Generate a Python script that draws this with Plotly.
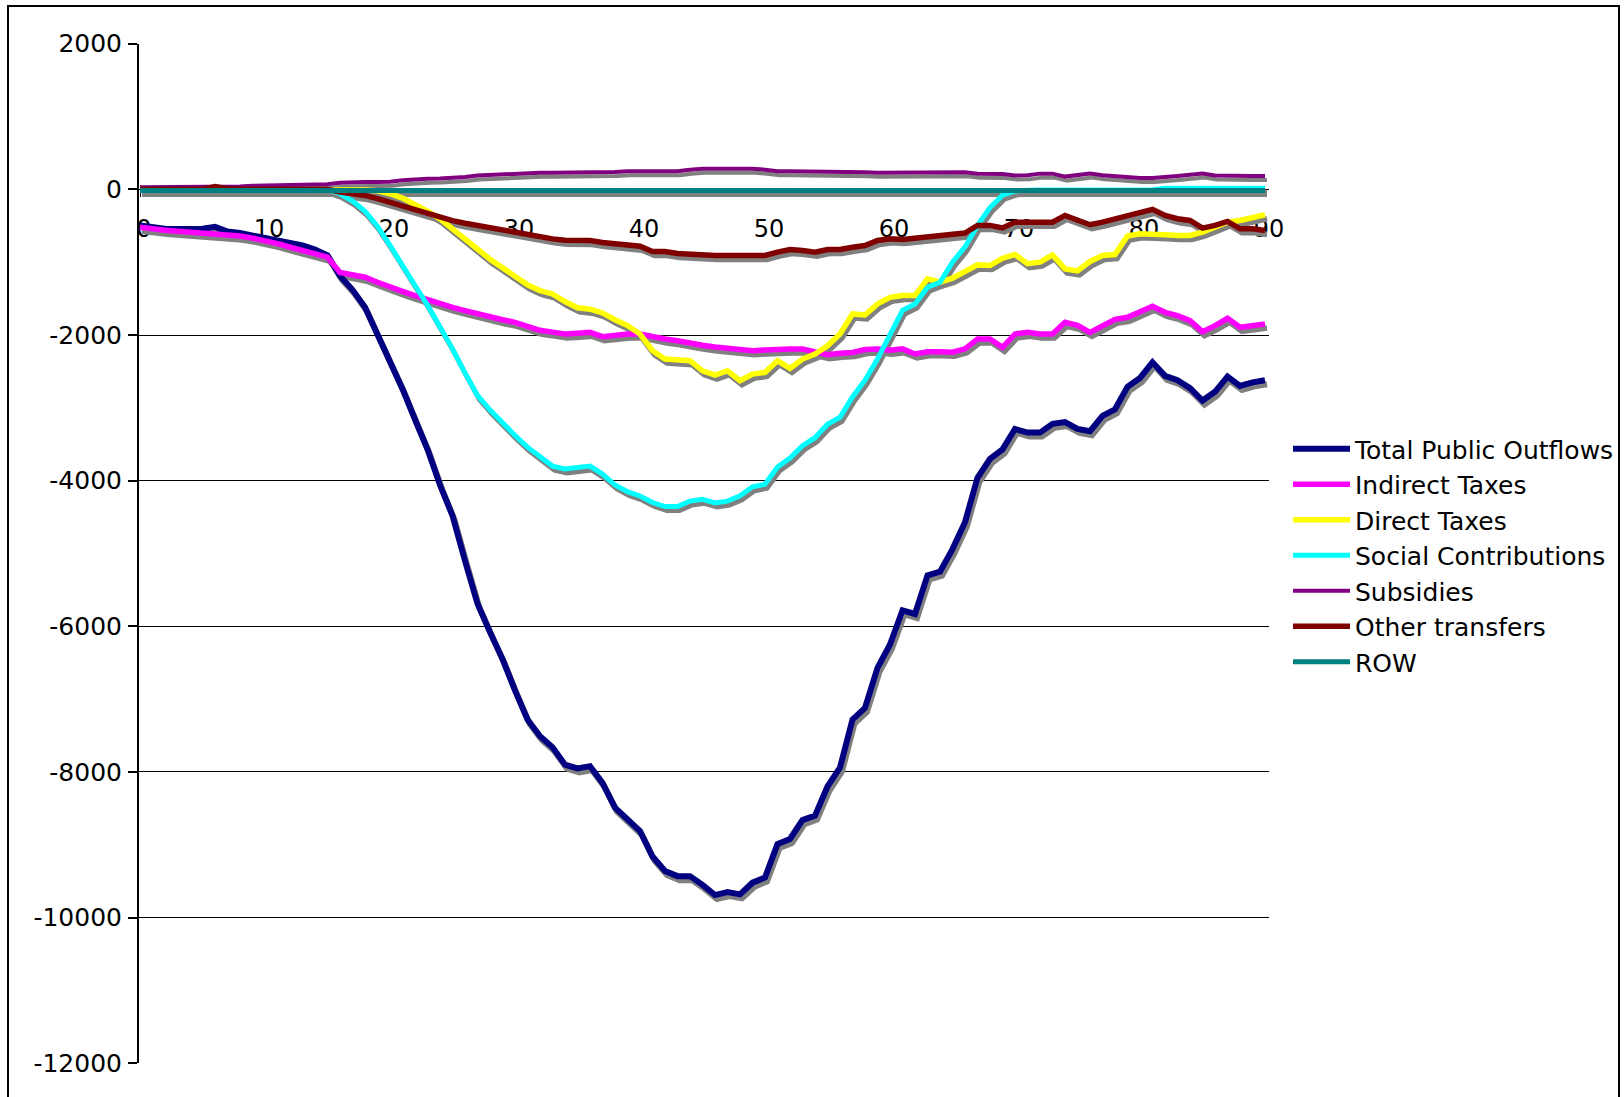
import plotly.graph_objects as go

# Age groups on the horizontal axis
ages = list(range(91))

total_public_outflows = [
    -495, -520, -540, -545, -550, -540, -515, -580, -600, -630,
    -665, -690, -720, -770, -825, -905, -1190, -1380, -1620, -1990,
    -2330, -2740, -3160, -3570, -4060, -4480, -5100, -5690, -6080, -6450,
    -6880, -7280, -7510, -7660, -7900, -7950, -7920, -8150, -8490, -8650,
    -8810, -9160, -9360, -9430, -9430, -9550, -9690, -9650, -9680, -9520,
    -9450, -8990, -8920, -8660, -8600, -8200, -7940, -7280, -7120, -6570,
    -6250, -5780, -5830, -5300, -5250, -4940, -4570, -3960, -3700, -3570,
    -3290, -3340, -3340, -3220, -3195, -3290, -3320, -3110, -3020, -2710,
    -2590, -2375, -2560, -2620, -2730, -2900, -2780, -2570, -2700, -2650,
    -2620,
]

indirect_taxes = [
    -520, -545, -560, -575, -587, -605, -624, -630, -640, -670,
    -702, -745, -794, -840, -885, -931, -1140, -1180, -1206, -1275,
    -1344, -1400, -1459, -1515, -1573, -1620, -1665, -1710, -1757, -1790,
    -1826, -1885, -1935, -1960, -1986, -1975, -1963, -2023, -2000, -1986,
    -1986, -2030, -2055, -2078, -2100, -2140, -2165, -2185, -2205, -2215,
    -2205, -2193, -2193, -2193, -2240, -2270, -2250, -2240, -2200, -2193,
    -2210, -2190, -2260, -2230, -2230, -2235, -2190, -2055, -2055, -2170,
    -1986, -1963, -1986, -1986, -1826, -1867, -1963, -1872, -1785, -1757,
    -1679, -1605, -1688, -1734, -1803, -1954, -1872, -1771, -1894, -1872,
    -1849,
]

direct_taxes = [
    0, 0, 0, 0, 0, 0, 0, 0, 0, 0,
    0, 0, 0, 0, 0, 0, 0, 0, -10, -20,
    -60, -120, -200, -300, -404, -550, -680, -820, -960, -1080,
    -1200, -1310, -1390, -1436, -1540, -1625, -1645, -1697, -1790, -1870,
    -1986, -2216, -2330, -2340, -2353, -2491, -2550, -2491, -2628, -2537,
    -2514, -2353, -2459, -2330, -2261, -2147, -1986, -1711, -1725, -1573,
    -1482, -1459, -1459, -1229, -1275, -1220, -1138, -1037, -1046, -945,
    -895, -1020, -1000, -900, -1092, -1120, -990, -908, -895, -640,
    -610, -610, -624, -633, -633, -587, -518, -450, -427, -394,
    -349,
]

social_contributions = [
    0, 0, 0, 0, 0, 0, 0, 0, 0, 0,
    0, 0, 0, 0, 0, 0, -60, -160, -300, -510,
    -770, -1060, -1320, -1590, -1880, -2190, -2520, -2830, -3030, -3210,
    -3380, -3540, -3670, -3800, -3840, -3820, -3800, -3910, -4060, -4150,
    -4210, -4300, -4355, -4355, -4280, -4256, -4305, -4281, -4207, -4084,
    -4049, -3813, -3690, -3520, -3410, -3225, -3130, -2850, -2620, -2330,
    -2000, -1660, -1573, -1344, -1275, -1000, -790, -495, -250, -80,
    -20, -10, -10, -10, -10, -10, -10, -10, -10, -10,
    -10, -10, 15, 15, 15, 15, 15, 15, 15, 15,
    15,
]

subsidies = [
    30, 30, 30, 30, 30, 35, 40, 35, 40, 50,
    55, 55, 60, 60, 65, 70, 90, 100, 100, 100,
    105, 125, 140, 147, 150, 155, 170, 190, 200, 202,
    210, 229, 229, 229, 229, 235, 239, 239, 240, 250,
    250, 250, 250, 250, 270, 284, 284, 284, 284, 284,
    270, 250, 250, 248, 248, 248, 248, 248, 235, 229,
    229, 229, 229, 229, 229, 229, 235, 216, 216, 210,
    190, 195, 216, 216, 175, 200, 216, 195, 180, 165,
    156, 156, 165, 184, 200, 216, 190, 184, 184, 184,
    184,
]

other_transfers = [
    0, 0, 0, 0, 0, 0, 40, 10, 0, 0,
    0, 0, 0, 0, 0, 0, -37, -60, -83, -128,
    -180, -230, -280, -335, -380, -430, -465, -495, -530, -570,
    -590, -624, -650, -680, -700, -702, -702, -730, -750, -775,
    -780, -853, -853, -880, -890, -908, -908, -908, -908, -908,
    -908, -862, -826, -839, -862, -826, -826, -794, -771, -702,
    -679, -688, -670, -656, -642, -633, -600, -495, -495, -530,
    -450, -450, -450, -450, -358, -427, -486, -450, -404, -367,
    -312, -275, -358, -404, -427, -532, -495, -440, -541, -541,
    -564,
]

row = [
    -15, -15, -15, -15, -15, -15, -15, -15, -15, -15,
    -15, -15, -15, -15, -15, -15, -15, -15, -15, -15,
    -15, -15, -15, -15, -15, -15, -15, -15, -15, -15,
    -15, -15, -15, -15, -15, -15, -15, -15, -15, -15,
    -15, -15, -15, -15, -15, -15, -15, -15, -15, -15,
    -15, -15, -15, -15, -15, -15, -15, -15, -15, -15,
    -15, -15, -15, -15, -15, -15, -15, -15, -15, -15,
    -15, -15, -15, -15, -15, -15, -15, -15, -15, -15,
    -15, -15, -15, -15, -15, -15, -15, -15, -15, -15,
    -15,
]

x_ticks = [0, 10, 20, 30, 40, 50, 60, 70, 80, 90]
y_ticks = [2000, 0, -2000, -4000, -6000, -8000, -10000, -12000]
y_tick_text = ["2000", "0", "-2000", "-4000", "-6000", "-8000", "-10000", "-12000"]

series = [
    ("Total Public Outflows", total_public_outflows, "#000080", 6),
    ("Indirect Taxes", indirect_taxes, "#FF00FF", 5.5),
    ("Direct Taxes", direct_taxes, "#FFFF00", 5.5),
    ("Social Contributions", social_contributions, "#00FFFF", 5),
    ("Subsidies", subsidies, "#800080", 4),
    ("Other transfers", other_transfers, "#800000", 5.5),
    ("ROW", row, "#008080", 5),
]

W, H = 1624, 1097
FONT = "DejaVu Sans, Verdana, sans-serif"

# plot area in pixels
px_left, px_right = 138, 1269
px_top, px_bottom = 43.7, 1063.3
x_range = [(px_left - 140) / 12.5, (px_right - 140) / 12.5]
y_range = [-12000, 2000]

x_dom = [px_left / W, px_right / W]
y_dom = [1 - px_bottom / H, 1 - px_top / H]
zero_pos = y_dom[0] + (0 - y_range[0]) / (y_range[1] - y_range[0]) * (y_dom[1] - y_dom[0])

# drop shadow: same data on a second, slightly shifted coordinate system
units_per_px_y = (y_range[1] - y_range[0]) / (px_bottom - px_top)
units_per_px_x = (x_range[1] - x_range[0]) / (px_right - px_left)
shadow_dy, shadow_dx = 4, 2
shadow_x_range = [x_range[0] - shadow_dx * units_per_px_x, x_range[1] - shadow_dx * units_per_px_x]
shadow_y_range = [y_range[0] + shadow_dy * units_per_px_y, y_range[1] + shadow_dy * units_per_px_y]

fig = go.Figure()

for name, vals, color, width in series:
    fig.add_trace(go.Scatter(
        x=ages, y=vals, mode="lines", xaxis="x", yaxis="y",
        line=dict(color="#808080", width=width),
        showlegend=False, hoverinfo="skip",
    ))

for name, vals, color, width in series:
    fig.add_trace(go.Scatter(
        x=ages, y=vals, mode="lines", name=name, xaxis="x2", yaxis="y2",
        line=dict(color=color, width=width),
    ))

fig.update_layout(
    width=W, height=H, autosize=False,
    margin=dict(l=0, r=0, t=0, b=0, pad=0, autoexpand=False),
    paper_bgcolor="white", plot_bgcolor="rgba(0,0,0,0)",
    font=dict(family=FONT, size=24, color="black"),
    xaxis=dict(domain=x_dom, range=shadow_x_range, visible=False, fixedrange=True, automargin=False),
    yaxis=dict(domain=y_dom, range=shadow_y_range, visible=False, fixedrange=True, automargin=False),
    xaxis2=dict(
        overlaying="x", range=x_range, anchor="free", position=zero_pos,
        showgrid=False, zeroline=False, automargin=False,
        showline=True, linecolor="black", linewidth=1,
        tickmode="array", tickvals=x_ticks, ticktext=[str(t) for t in x_ticks],
        ticks="outside", ticklen=7, tickwidth=1, tickcolor="black",
        minor=dict(tick0=0, dtick=1, ticks="outside", ticklen=7, tickwidth=1, tickcolor="black"),
        tickfont=dict(family=FONT, size=24, color="black"),
        ticklabelstandoff=11, ticklabelshift=4,
        layer="below traces",
    ),
    yaxis2=dict(
        overlaying="y", range=y_range, anchor="free", position=x_dom[0], side="left",
        tickmode="array", tickvals=y_ticks, ticktext=y_tick_text,
        showgrid=True, gridcolor="black", gridwidth=1, zeroline=False, automargin=False,
        showline=True, linecolor="black", linewidth=2,
        ticks="outside", ticklen=9, tickwidth=2, tickcolor="black",
        tickfont=dict(family=FONT, size=25, color="black"),
        ticklabelstandoff=1,
        layer="below traces",
    ),
    legend=dict(
        x=1288 / W, y=1 - 426 / H, xanchor="left", yanchor="top",
        font=dict(family=FONT, size=25, color="black"),
        bgcolor="rgba(0,0,0,0)", borderwidth=0, itemwidth=57,
        tracegroupgap=0,
    ),
    shapes=[dict(
        type="rect", xref="paper", yref="paper",
        x0=8 / W, x1=1619 / W, y0=-0.1, y1=1 - 6 / H,
        line=dict(color="black", width=2), fillcolor="rgba(0,0,0,0)",
    )],
    showlegend=True,
)

fig.write_html("out.html")
